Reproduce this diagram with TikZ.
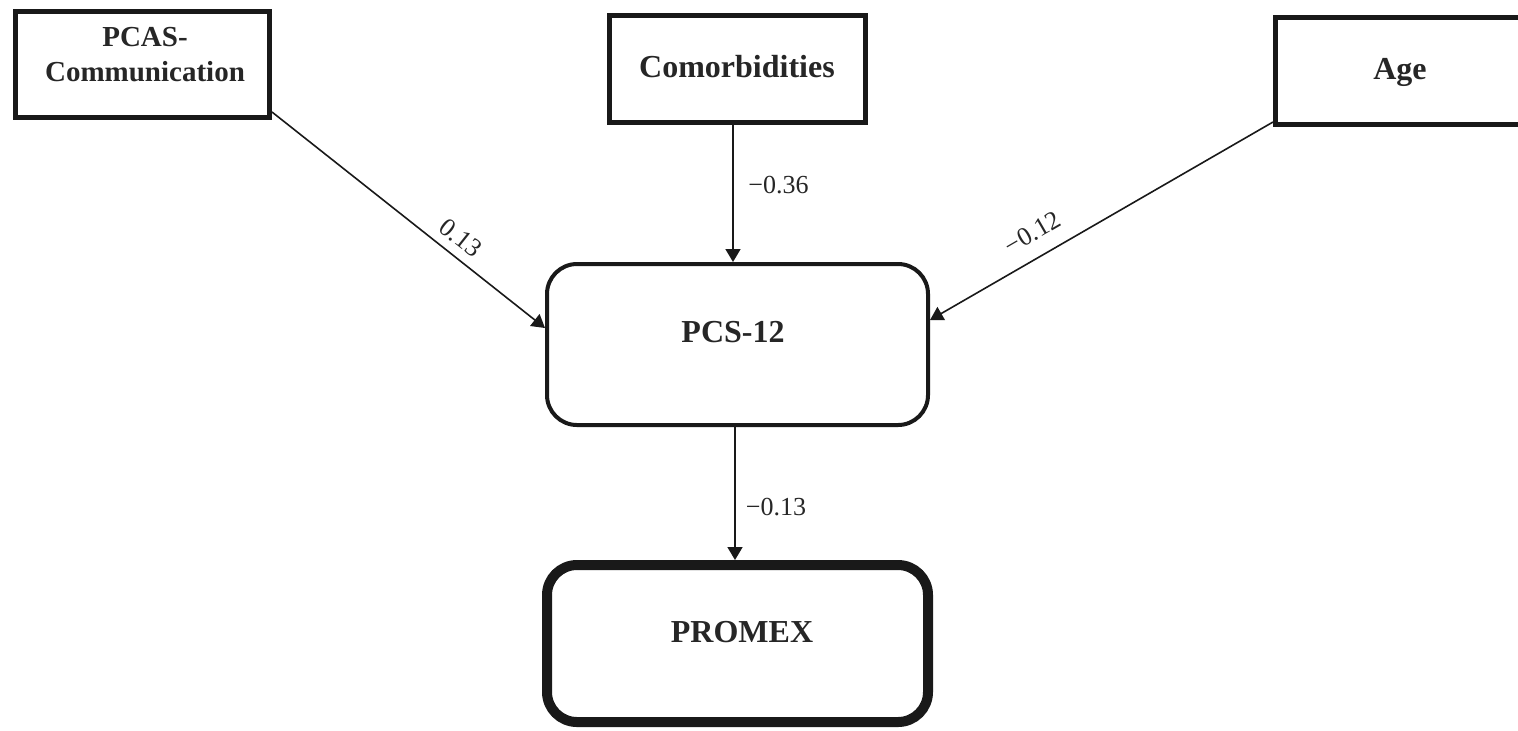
\documentclass[tikz,border=0pt]{standalone}
\usepackage{fontspec}
\setmainfont{Liberation Serif}
\usetikzlibrary{arrows.meta}
\begin{document}
\begin{tikzpicture}[x=0.5pt,y=-0.5pt,
  sqbox/.style={draw=black!90, line width=2.5pt, rectangle, inner sep=0pt},
  rbox/.style={draw=black!90, rectangle, rounded corners=15pt, inner sep=0pt},
  title/.style={font=\fontsize{16}{17.5}\selectfont\bfseries, align=center, inner sep=0pt, text=black!85},
  coef/.style={font=\fontsize{13}{15}\selectfont, text=black!85},
  link/.style={draw=black!90, line width=0.8pt, -{Triangle[length=6.5pt,width=7.5pt]}}
]
\useasboundingbox (0,0) rectangle (1518,730);

% predictors
\node[sqbox, minimum width=127pt, minimum height=53pt] (pcas) at (142.5,64.5) {};
\node[title, font=\fontsize{14.5}{17.5}\selectfont\bfseries] (pcastxt) at (145,55) {PCAS-\\Communication};

\node[sqbox, minimum width=128pt, minimum height=53.5pt] (com) at (737.5,69) {};
\node[title, anchor=base] (comtxt) at (737,77) {Comorbidities};

\node[sqbox, minimum width=128pt, minimum height=53.5pt] (age) at (1403.5,71) {};
\node[title, anchor=base] (agetxt) at (1400,79) {Age};

% mediator and outcome
\node[rbox, line width=2pt, minimum width=190.5pt, minimum height=80.5pt] (pcs) at (737.5,344.5) {};
\node[title, anchor=base] (pcstxt) at (733,342) {PCS-12};

\node[rbox, line width=5pt, minimum width=190.5pt, minimum height=78.5pt] (prom) at (737.5,643.5) {};
\node[title, anchor=base] (promtxt) at (742,642) {PROMEX};

% paths with coefficients
\draw[link] ([yshift=4pt]pcas.south east) --
  node[coef, sloped, above=1pt, pos=0.65] (c1) {0.13}
  ([yshift=8.25pt]pcs.west);

\draw[link] ([xshift=-2.25pt]com.south) --
  node[coef, right, pos=0.44, xshift=4pt] (c2) {−0.36}
  ([xshift=-2.25pt]com.south |- pcs.north);

\draw[link] ([yshift=2.5pt]age.south west) --
  node[coef, sloped, above=4pt, pos=0.665] (c3) {−0.12}
  ([yshift=12.25pt]pcs.east);

\draw[link] ([xshift=-1.25pt]pcs.south) --
  node[coef, right, pos=0.6, xshift=1.7pt] (c4) {−0.13}
  ([xshift=-1.25pt]pcs.south |- prom.north);
\end{tikzpicture}
\end{document}
